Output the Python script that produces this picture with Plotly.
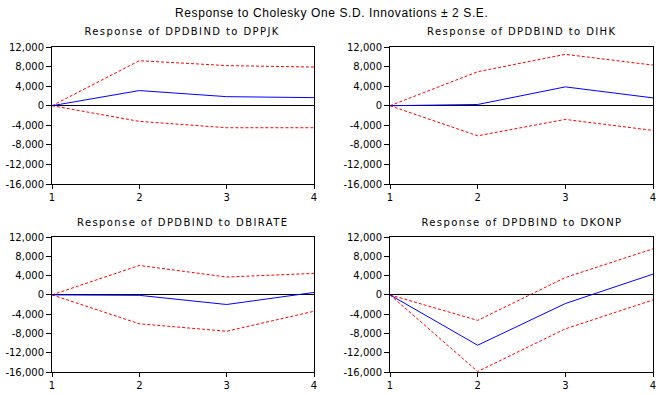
import plotly.graph_objects as go

periods = [1, 2, 3, 4]
titles = [
    "Response of DPDBIND to DPPJK",
    "Response of DPDBIND to DIHK",
    "Response of DPDBIND to DBIRATE",
    "Response of DPDBIND to DKONP",
]
response = [
    [0, 3100, 1850, 1650],
    [0, 250, 3850, 1600],
    [0, -100, -2000, 500],
    [0, -10450, -1800, 4300],
]
upper = [
    [0, 9200, 8200, 7900],
    [0, 6950, 10500, 8300],
    [0, 6100, 3700, 4450],
    [0, -5300, 3600, 9550],
]
lower = [
    [0, -3200, -4500, -4500],
    [0, -6150, -2800, -5050],
    [0, -6000, -7550, -3400],
    [0, -15900, -7050, -1050],
]
yticks = [12000, 8000, 4000, 0, -4000, -8000, -12000, -16000]
ytick_text = ["12,000", "8,000", "4,000", "0", "-4,000", "-8,000", "-12,000", "-16,000"]

W, H = 662, 395
xdoms = [(52 / W, 314 / W), (390 / W, 653 / W)]
ydoms = [(1 - 184 / H, 1 - 47 / H), (1 - 372 / H, 1 - 237 / H)]

fig = go.Figure()
tick_font = dict(family="DejaVu Sans", size=10, color="black")

for i in range(4):
    r, c = divmod(i, 2)
    n = "" if i == 0 else str(i + 1)
    xa, ya = "x" + n, "y" + n
    for vals, color, dash in [(upper[i], "#ff0000", "3px,2px"),
                              (lower[i], "#ff0000", "3px,2px"),
                              (response[i], "#0000ff", "solid")]:
        fig.add_trace(go.Scatter(x=periods, y=vals, mode="lines", xaxis=xa, yaxis=ya,
                                 line=dict(color=color, width=1, dash=dash),
                                 showlegend=False, hoverinfo="skip"))
    fig.update_layout(**{
        "xaxis" + n: dict(domain=xdoms[c], anchor=ya, range=[1, 4], tickvals=periods,
                          showline=True, mirror=True, linecolor="black", linewidth=1,
                          ticks="outside", ticklen=4, tickcolor="black", showgrid=False,
                          zeroline=False, tickfont=tick_font, fixedrange=True,
                          automargin=False),
        "yaxis" + n: dict(domain=ydoms[r], anchor=xa, range=[-16000, 12000],
                          tickvals=yticks, ticktext=ytick_text,
                          showline=True, mirror=True, linecolor="black", linewidth=1,
                          ticks="outside", ticklen=5, tickcolor="black", showgrid=False,
                          zeroline=True, zerolinecolor="black", zerolinewidth=1,
                          tickfont=tick_font, fixedrange=True, automargin=False),
    })
    fig.add_annotation(text=titles[i], xref="paper", yref="paper",
                       x=(xdoms[c][0] + xdoms[c][1]) / 2, y=ydoms[r][1] + 15 / H,
                       xanchor="center", yanchor="middle", showarrow=False,
                       font=dict(family="DejaVu Sans", size=10, color="black"))

fig.add_annotation(text="Response to Cholesky One S.D. Innovations \u00b1 2 S.E.",
                   xref="paper", yref="paper", x=0.5, y=1 - 13 / H,
                   xanchor="center", yanchor="middle", showarrow=False,
                   font=dict(family="Liberation Sans", size=12, color="black"))

fig.update_layout(width=W, height=H, margin=dict(l=0, r=0, t=0, b=0),
                  paper_bgcolor="white", plot_bgcolor="white")

post = """
document.body.style.margin = '0';
var ann = document.querySelectorAll('.annotation-text');
ann.forEach(function (t, k) {
  t.style.letterSpacing = (k < 4) ? '1.4px' : '0.6px';
});
"""
fig.write_html("out.html", post_script=post, config={"displayModeBar": False})
